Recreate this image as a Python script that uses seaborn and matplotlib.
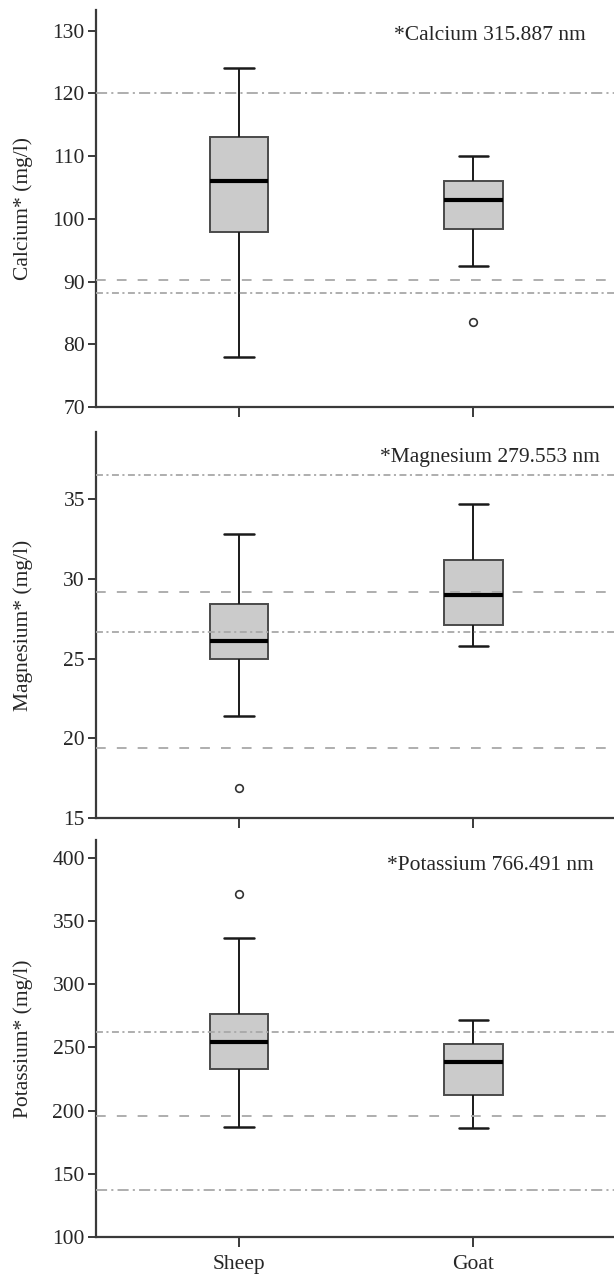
import numpy as np
import pandas as pd
import matplotlib
matplotlib.use("Agg")
import matplotlib.pyplot as plt
import seaborn as sns

# ---- data (sample values reproducing the read box summaries) ----
species = ["Sheep", "Goat"]

calcium_sheep = [78.0, 97.9, 106.0, 113.0, 124.0]
calcium_goat = [83.6, 92.5, 98.3, 100.5, 103.0, 104.5, 106.0, 108.0, 110.0]

magnesium_sheep = [16.87, 21.38, 24.95, 25.5, 26.07, 27.2, 28.43, 30.5, 32.8]
magnesium_goat = [25.78, 27.1, 28.98, 31.17, 34.69]

potassium_sheep = [187.0, 215.0, 232.5, 245.0, 254.2, 265.0, 276.5, 336.8, 371.4]
potassium_goat = [186.2, 212.4, 238.1, 252.4, 272.0]

# reference lines (value, style)
calcium_refs = [(120.1, "dashdot_long"), (90.2, "dashed"), (88.25, "dashdot")]
magnesium_refs = [(36.5, "dashdot"), (29.2, "dashed"), (26.68, "dashdot"), (19.37, "dashed")]
potassium_refs = [(261.9, "dashdot"), (195.5, "dashed"), (137.0, "dashdot_long")]

panels = [
    ("Calcium* (mg/l)", "*Calcium 315.887 nm", calcium_sheep, calcium_goat, calcium_refs,
     (70, 133.3), [70, 80, 90, 100, 110, 120, 130]),
    ("Magnesium* (mg/l)", "*Magnesium 279.553 nm", magnesium_sheep, magnesium_goat, magnesium_refs,
     (15, 39.2), [15, 20, 25, 30, 35]),
    ("Potassium* (mg/l)", "*Potassium 766.491 nm", potassium_sheep, potassium_goat, potassium_refs,
     (100, 414), [100, 150, 200, 250, 300, 350, 400]),
]

# ---- style ----
sns.set_style("ticks")
plt.rcParams["font.family"] = ["Liberation Serif", "DejaVu Serif"]
plt.rcParams["lines.scale_dashes"] = False

line_styles = {
    "dashed": (0, (7, 8)),
    "dashdot": (0, (5, 2.5, 1.5, 2.5)),
    "dashdot_long": (0, (8, 3, 1.5, 3)),
}

fig = plt.figure(figsize=(6.14, 12.75), dpi=100)
rects = [
    [0.1564, 0.6808, 0.8436, 0.3114],
    [0.1564, 0.3584, 0.8436, 0.3028],
    [0.1564, 0.0298, 0.8436, 0.3114],
]

spine_c = "#3a3a3a"
for i, (ylabel, note, sheep, goat, refs, ylim, yticks) in enumerate(panels):
    ax = fig.add_axes(rects[i])
    df = pd.DataFrame({
        "species": ["Sheep"] * len(sheep) + ["Goat"] * len(goat),
        "value": sheep + goat,
    })
    sns.boxplot(
        data=df, x="species", y="value", order=species, ax=ax,
        width=0.25, color="#cbcbcb", saturation=1, linecolor="#4a4a4a", linewidth=1.4,
        whis=1.5,
        medianprops={"color": "black", "linewidth": 3.0},
        whiskerprops={"color": "#1a1a1a", "linewidth": 1.4},
        capprops={"color": "#1a1a1a", "linewidth": 1.8},
        flierprops={"marker": "o", "markersize": 5.5, "markerfacecolor": "white",
                    "markeredgecolor": "#333333", "markeredgewidth": 1.2},
    )
    for val, st in refs:
        ax.axhline(val, color="#a8a8a8", linewidth=1.3, linestyle=line_styles[st], zorder=5)

    ax.set_xlim(-0.61, 1.6)
    ax.set_ylim(*ylim)
    ax.set_yticks(yticks)
    ax.set_xlabel("")
    ax.set_ylabel(ylabel, fontsize=15.5)
    ax.yaxis.set_label_coords(-0.122, 0.5)
    sns.despine(ax=ax)
    for s in ["left", "bottom"]:
        ax.spines[s].set_color(spine_c)
        ax.spines[s].set_linewidth(1.6)
    ax.tick_params(axis="y", length=6, width=1.4, color=spine_c, labelsize=15.5, pad=2)
    ax.tick_params(axis="x", length=7, width=1.4, color=spine_c, labelsize=15.5, pad=6)
    if i < 2:
        ax.set_xticklabels([])
    ax.text(0.761, 0.935, note, transform=ax.transAxes, ha="center", va="center", fontsize=15.5)

fig.savefig("out.png", dpi=100)
